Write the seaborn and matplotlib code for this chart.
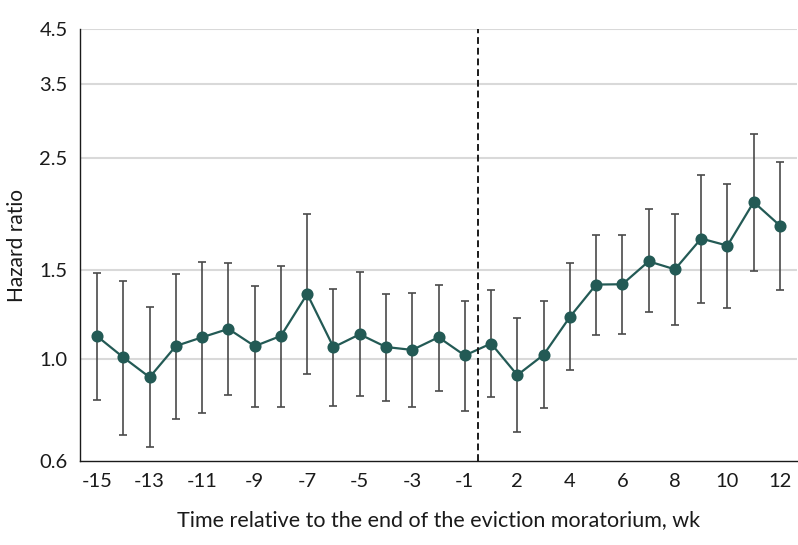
import numpy as np
import pandas as pd
import matplotlib
matplotlib.use("Agg")
import matplotlib.pyplot as plt
import seaborn as sns

# ---------------- data ----------------
weeks = [-15, -14, -13, -12, -11, -10, -9, -8, -7, -6, -5, -4, -3, -2, -1,
         1, 2, 3, 4, 5, 6, 7, 8, 9, 10, 11, 12]
hazard = [1.107, 1.005, 0.918, 1.059, 1.102, 1.145, 1.058, 1.109, 1.343,
          1.053, 1.117, 1.054, 1.040, 1.102, 1.014,
          1.071, 0.927, 1.017, 1.209, 1.402, 1.404, 1.559, 1.503, 1.730,
          1.675, 2.044, 1.835]
ci_low = [0.827, 0.705, 0.667, 0.760, 0.781, 0.848, 0.802, 0.802, 0.932,
          0.805, 0.842, 0.824, 0.802, 0.862, 0.786,
          0.839, 0.714, 0.797, 0.947, 1.111, 1.116, 1.234, 1.168, 1.291,
          1.262, 1.495, 1.366]
ci_high = [1.481, 1.425, 1.264, 1.474, 1.552, 1.550, 1.396, 1.526, 1.935,
           1.372, 1.483, 1.343, 1.352, 1.402, 1.303,
           1.368, 1.202, 1.299, 1.550, 1.758, 1.762, 1.977, 1.933, 2.309,
           2.220, 2.789, 2.458]
y_ticks = [0.627, 1.0, 1.5, 2.5, 3.5, 4.5]
y_tick_labels = ["0.6", "1.0", "1.5", "2.5", "3.5", "4.5"]
x_tick_labels = ["-15", "-13", "-11", "-9", "-7", "-5", "-3", "-1",
                 "2", "4", "6", "8", "10", "12"]

df = pd.DataFrame({"week": [str(w) for w in weeks], "hr": hazard,
                   "lo": ci_low, "hi": ci_high})

# ---------------- plot ----------------
sns.set_style("white")
plt.rcParams["font.family"] = ["Lato", "DejaVu Sans"]

fig = plt.figure(figsize=(7.98, 5.45), dpi=100)
ax = fig.add_axes([0.1003, 0.1547, 0.8985, 0.7915])

pos = np.arange(len(df))
ax.errorbar(pos, df["hr"], yerr=[df["hr"] - df["lo"], df["hi"] - df["hr"]],
            fmt="none", ecolor="#4a4a4a", elinewidth=1.2, capsize=3.2,
            capthick=1.2, zorder=2)

sns.pointplot(data=df, x="week", y="hr", order=df["week"], errorbar=None,
              color="#235a55", markers="o", markersize=7.5, linewidth=1.6,
              ax=ax, zorder=3)

ax.set_yscale("log")
ax.set_ylim(y_ticks[0], y_ticks[-1])
ax.set_xlim(-0.65, len(df) - 0.35)
ax.set_yticks(y_ticks)
ax.set_yticklabels(y_tick_labels)
ax.yaxis.set_minor_locator(matplotlib.ticker.NullLocator())

ax.set_xticks(pos)
labels = [w if w in x_tick_labels else "" for w in df["week"]]
ax.set_xticklabels(labels)

for yv in y_ticks[1:]:
    ax.axhline(yv, color="#d9d9d9", lw=1.5, zorder=0)

ax.axvline(14.5, color="#1a1a1a", ls=(0, (3.5, 2)), lw=1.4, zorder=4)

for s in ["top", "right"]:
    ax.spines[s].set_visible(False)
for s in ["left", "bottom"]:
    ax.spines[s].set_color("#1a1a1a")
    ax.spines[s].set_linewidth(1.0)

ax.tick_params(axis="both", which="major", direction="out", length=5,
               width=1.0, color="#1a1a1a", labelsize=14.5, labelcolor="#1a1a1a",
               pad=4)

ax.set_xlabel("Time relative to the end of the eviction moratorium, wk",
              fontsize=15.5, color="#1a1a1a", labelpad=14)
ax.set_ylabel("Hazard ratio", fontsize=15, color="#1a1a1a", labelpad=9)

fig.savefig("out.png", dpi=100)
